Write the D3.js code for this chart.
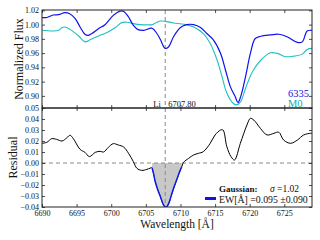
<!DOCTYPE html>
<html><head><meta charset="utf-8">
<script src="https://cdn.jsdelivr.net/npm/d3@7"></script>
<style>body{margin:0;background:#fff}svg{display:block}text{font-family:"Liberation Serif","DejaVu Serif",serif}</style>
</head><body>
<svg id="c" width="320" height="240"></svg>
<script>
// ---- data ----
const blueWave = [6690.0,6690.7,6691.6,6692.4,6693.3,6694.0,6694.8,6695.5,6696.2,6696.7,6697.2,6698.2,6699.1,6700.3,6701.3,6701.8,6702.5,6703.2,6703.9,6704.7,6705.9,6706.6,6707.1,6707.8,6708.3,6709.0,6710.0,6710.9,6711.9,6712.9,6713.8,6714.8,6715.8,6716.5,6717.2,6717.9,6718.3,6718.7,6719.4,6720.1,6720.8,6721.6,6723.0,6724.2,6725.4,6726.9,6727.6,6728.3,6729.0];
const blueFlux = [1.0098,1.010,1.0135,1.014,1.0167,1.0153,1.0084,0.9967,0.9865,0.985,0.9875,0.9945,0.9999,1.013,1.019,1.0185,1.0107,0.999,0.993,0.992,0.9949,0.9875,0.979,0.9666,0.969,0.983,0.9959,1.000,1.000,0.9959,0.9875,0.978,0.9596,0.9363,0.913,0.899,0.8907,0.899,0.927,0.9596,0.9805,0.9837,0.9855,0.9865,0.983,0.975,0.9758,0.991,0.992];
const tealWave = [6690.0,6691.6,6692.4,6692.9,6693.3,6694.1,6695.3,6696.2,6697.0,6698.4,6699.4,6700.6,6701.5,6702.3,6703.2,6704.2,6705.2,6705.9,6706.6,6707.1,6707.8,6709.0,6710.5,6711.9,6713.3,6714.3,6715.3,6716.0,6716.7,6717.5,6718.1,6718.7,6719.4,6720.4,6721.6,6723.0,6724.0,6725.2,6726.4,6727.6,6728.3,6729.0];
const tealFlux = [0.992,0.991,0.992,0.9959,0.9967,0.993,0.984,0.9758,0.979,0.985,0.9889,0.996,1.0028,1.0033,1.0014,1.000,0.9997,1.000,1.0033,1.005,1.0046,1.0023,1.0005,0.9967,0.9875,0.9735,0.950,0.927,0.904,0.8907,0.8874,0.892,0.9107,0.934,0.950,0.9604,0.9596,0.955,0.9558,0.9586,0.9652,0.9666];
const resWaveLeft = [6690.0,6690.7,6691.4,6692.1,6692.9,6693.6,6694.05,6694.5,6695.5,6696.2,6696.85,6697.7,6698.4,6698.9,6699.6,6700.3,6701.0,6701.8,6702.5,6703.2,6703.7,6704.4,6705.15,6705.9];
const resLeft = [0.0179,0.0188,0.0221,0.0215,0.020,0.023,0.0252,0.0224,0.0124,0.0097,0.0058,0.0097,0.0106,0.010,0.0143,0.0176,0.0164,0.0145,0.0088,0.0012,-0.0048,-0.0067,-0.0058,-0.0039];
const resWaveRight = [6710.2,6710.45,6711.2,6711.9,6712.6,6713.3,6714.3,6715.0,6715.8,6716.15,6716.7,6717.3,6717.8,6718.65,6719.6,6720.1,6720.6,6721.55,6722.5,6723.5,6724.2,6724.9,6725.9,6726.9,6727.8,6728.8,6729.0];
const resRight = [-0.0034,0.0006,0.0043,0.0073,0.0088,0.0103,0.0179,0.0255,0.030,0.030,0.0148,0.0058,0.0027,0.0179,0.0345,0.0406,0.039,0.0315,0.0255,0.027,0.028,0.0209,0.0179,0.0209,0.0255,0.027,0.027];
const fitWave = [6705.9,6706.1,6706.35,6706.7,6707.1,6707.55,6707.9,6708.3,6708.6,6709.0,6709.35,6709.7,6710.0,6710.2];
const fitRes = [-0.0045,-0.0095,-0.017,-0.024,-0.0306,-0.038,-0.0403,-0.0367,-0.031,-0.023,-0.017,-0.0109,-0.006,-0.0034];
const dataFitRes = [-0.0039,-0.009,-0.016,-0.0235,-0.030,-0.0385,-0.0405,-0.0375,-0.0315,-0.024,-0.0175,-0.0115,-0.0062,-0.0034];
const lineCenter = 6707.80;
const topTicks = [0.90,0.92,0.94,0.96,0.98,1.00,1.02];
const botTicks = [-0.04,-0.03,-0.02,-0.01,0.00,0.01,0.02,0.03,0.04,0.05];
const xTicks = [6690,6695,6700,6705,6710,6715,6720,6725];

// ---- layout ----
const L = 42, R = 312, T1 = 10, B1 = 108, T2 = 108, B2 = 207;
const svg = d3.select("#c");
const x = d3.scaleLinear().domain([6690, 6729]).range([L, R]);
const yTop = d3.scaleLinear().domain([0.883, 1.0205]).range([B1, T1]);
const yBot = d3.scaleLinear().domain([-0.04, 0.05]).range([B2, T2]);
const serif = "Liberation Serif, DejaVu Serif, serif";
const zip = (a, b) => a.map((v, i) => [v, b[i]]);
const curve = d3.curveCatmullRom.alpha(0.5);

svg.append("clipPath").attr("id","ct").append("rect").attr("x",L).attr("y",T1).attr("width",R-L).attr("height",B1-T1);
svg.append("clipPath").attr("id","cb").append("rect").attr("x",L).attr("y",T2).attr("width",R-L).attr("height",B2-T2);

// ---- top panel ----
const gt = svg.append("g").attr("clip-path","url(#ct)");
const lineT = d3.line().x(d => x(d[0])).y(d => yTop(d[1])).curve(curve);
gt.append("line").attr("x1",x(lineCenter)).attr("x2",x(lineCenter)).attr("y1",T1).attr("y2",B1)
  .attr("stroke","#888").attr("stroke-width",1).attr("stroke-dasharray","4,3");
gt.append("path").datum(zip(tealWave, tealFlux)).attr("d", lineT).attr("fill","none").attr("stroke","#1fc0c0").attr("stroke-width",1.1);
gt.append("path").datum(zip(blueWave, blueFlux)).attr("d", lineT).attr("fill","none").attr("stroke","#1010f0").attr("stroke-width",1.2);

// ---- bottom panel ----
const gb = svg.append("g").attr("clip-path","url(#cb)");
const lineB = d3.line().x(d => x(d[0])).y(d => yBot(d[1])).curve(curve);
const areaB = d3.area().x(d => x(d[0])).y0(yBot(0)).y1(d => yBot(d[1])).curve(curve);
gb.append("path").datum(zip(fitWave, fitRes)).attr("d", areaB).attr("fill","#c8c8c8");
gb.append("line").attr("x1",L).attr("x2",R).attr("y1",yBot(0)).attr("y2",yBot(0))
  .attr("stroke","#888").attr("stroke-width",1).attr("stroke-dasharray","4,3");
gb.append("line").attr("x1",x(lineCenter)).attr("x2",x(lineCenter)).attr("y1",T2).attr("y2",B2)
  .attr("stroke","#888").attr("stroke-width",1).attr("stroke-dasharray","4,3");
gb.append("path").datum(zip(resWaveLeft, resLeft)).attr("d", lineB).attr("fill","none").attr("stroke","#000").attr("stroke-width",1);
gb.append("path").datum(zip(resWaveRight, resRight)).attr("d", lineB).attr("fill","none").attr("stroke","#000").attr("stroke-width",1);
gb.append("path").datum(zip(fitWave, dataFitRes)).attr("d", lineB).attr("fill","none").attr("stroke","#1a9a1a").attr("stroke-width",1);
gb.append("path").datum(zip(fitWave, fitRes)).attr("d", lineB).attr("fill","none").attr("stroke","#1010f0").attr("stroke-width",1.4);

// ---- axes ----
function styleAxis(g, labels){
  g.select(".domain").remove();
  g.selectAll(".tick line").attr("stroke","#222").attr("stroke-width",0.8);
  g.selectAll("text").attr("font-family",serif).attr("font-size",8).attr("fill","#111");
  if(!labels) g.selectAll("text").remove();
}
const fmt = d3.format(".2f");
svg.append("g").attr("transform",`translate(${L},0)`).call(d3.axisLeft(yTop).tickValues(topTicks).tickFormat(fmt).tickSizeInner(-3).tickSizeOuter(0).tickPadding(3)).call(g=>styleAxis(g,true));
svg.append("g").attr("transform",`translate(${R},0)`).call(d3.axisRight(yTop).tickValues(topTicks).tickSizeInner(-3).tickSizeOuter(0)).call(g=>styleAxis(g,false));
svg.append("g").attr("transform",`translate(0,${T1})`).call(d3.axisTop(x).tickValues(xTicks).tickSizeInner(-3).tickSizeOuter(0)).call(g=>styleAxis(g,false));
svg.append("g").attr("transform",`translate(0,${B1})`).call(d3.axisBottom(x).tickValues(xTicks).tickSizeInner(-3).tickSizeOuter(0)).call(g=>styleAxis(g,false));
svg.append("g").attr("transform",`translate(${L},0)`).call(d3.axisLeft(yBot).tickValues(botTicks).tickFormat(fmt).tickSizeInner(-3).tickSizeOuter(0).tickPadding(3)).call(g=>styleAxis(g,true));
svg.append("g").attr("transform",`translate(${R},0)`).call(d3.axisRight(yBot).tickValues(botTicks).tickSizeInner(-3).tickSizeOuter(0)).call(g=>styleAxis(g,false));
svg.append("g").attr("transform",`translate(0,${T2})`).call(d3.axisTop(x).tickValues(xTicks).tickSizeInner(-3).tickSizeOuter(0)).call(g=>styleAxis(g,false));
svg.append("g").attr("transform",`translate(0,${B2})`).call(d3.axisBottom(x).tickValues(xTicks).tickFormat(d3.format("d")).tickSizeInner(-3).tickSizeOuter(0).tickPadding(3)).call(g=>styleAxis(g,true));

svg.append("rect").attr("x",L).attr("y",T1).attr("width",R-L).attr("height",B1-T1).attr("fill","none").attr("stroke","#222").attr("stroke-width",1);
svg.append("rect").attr("x",L).attr("y",T2).attr("width",R-L).attr("height",B2-T2).attr("fill","none").attr("stroke","#222").attr("stroke-width",1);

// ---- labels ----
svg.append("text").attr("transform",`translate(23,${(T1+B1)/2}) rotate(-90)`).attr("text-anchor","middle")
  .attr("font-family",serif).attr("font-size",12).attr("fill","#111").text("Normalized Flux");
svg.append("text").attr("transform",`translate(17,${(T2+B2)/2}) rotate(-90)`).attr("text-anchor","middle")
  .attr("font-family",serif).attr("font-size",12).attr("fill","#111").text("Residual");
svg.append("text").attr("x",(L+R)/2).attr("y",228).attr("text-anchor","middle")
  .attr("font-family",serif).attr("font-size",11.5).attr("fill","#111").text("Wavelength [Å]");

const li = svg.append("text").attr("y",106.5).attr("font-family",serif).attr("font-size",8.5).attr("fill","#111");
li.append("tspan").attr("x",x(lineCenter)-12).text("Li");
li.append("tspan").attr("x",x(lineCenter)+3).text("6707.80");

svg.append("text").attr("x",288).attr("y",97).attr("font-family",serif).attr("font-size",10.5).attr("fill","#1515e0").text("6335");
svg.append("text").attr("x",288).attr("y",106.5).attr("font-family",serif).attr("font-size",10.5).attr("fill","#18a8a8").text("M0");

svg.append("text").attr("x",219).attr("y",192).attr("font-family",serif).attr("font-size",9).attr("font-weight","bold").attr("fill","#111").text("Gaussian:");
svg.append("text").attr("x",270).attr("y",192).attr("font-family",serif).attr("font-size",9.5).attr("fill","#111")
  .html('<tspan font-style="italic">σ</tspan> =1.02');
svg.append("line").attr("x1",205).attr("x2",216).attr("y1",198.5).attr("y2",198.5).attr("stroke","#1010f0").attr("stroke-width",3);
svg.append("text").attr("x",219).attr("y",202.5).attr("font-family",serif).attr("font-size",9.8).attr("fill","#111").text("EW[Å] =0.095 ±0.090");
</script>
</body></html>
